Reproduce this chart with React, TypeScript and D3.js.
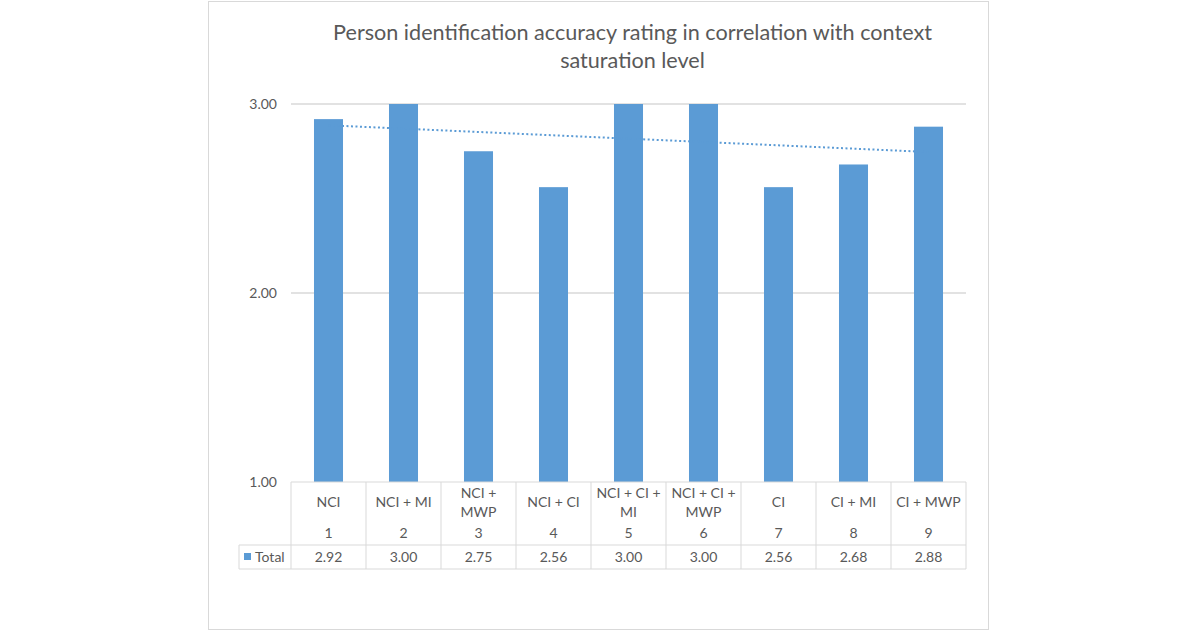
import React from "react";
import * as d3 from "d3";

const titleLines = [
  "Person identification accuracy rating in correlation with context",
  "saturation level",
];
const categories = [
  "NCI",
  "NCI + MI",
  "NCI + MWP",
  "NCI + CI",
  "NCI + CI + MI",
  "NCI + CI + MWP",
  "CI",
  "CI + MI",
  "CI + MWP",
];
const levels = [1, 2, 3, 4, 5, 6, 7, 8, 9];
const totals = [2.92, 3.0, 2.75, 2.56, 3.0, 3.0, 2.56, 2.68, 2.88];
const yTicks = [1, 2, 3];
const seriesName = "Total";

const FONT = "Lato, 'Open Sans', sans-serif";
const TEXT = "#595959";
const GRID = "#d9d9d9";
const BLUE = "#5B9BD5";

function wrap(label: string, maxW: number, font: string): string[] {
  const c = document.createElement("canvas").getContext("2d")!;
  c.font = font;
  const words = label.split(" ");
  const lines: string[] = [];
  let cur = "";
  for (const w of words) {
    const t = cur ? cur + " " + w : w;
    if (cur && c.measureText(t).width > maxW) {
      lines.push(cur);
      cur = w;
    } else cur = t;
  }
  if (cur) lines.push(cur);
  return lines;
}

export default function App() {
  const W = 1200,
    H = 632;
  const left = 291,
    right = 966,
    top = 104,
    bottom = 482;
  const x = d3
    .scaleBand<number>()
    .domain(levels)
    .range([left, right])
    .paddingInner(0.613)
    .paddingOuter(0.3065);
  const xCell = d3.scaleBand<number>().domain(levels).range([left, right]);
  const y = d3.scaleLinear().domain([1, 3]).range([bottom, top]);

  // linear trendline (least squares)
  const mx = d3.mean(levels)!;
  const my = d3.mean(totals)!;
  const sxy = d3.sum(levels.map((l, i) => (l - mx) * (totals[i] - my)));
  const sxx = d3.sum(levels.map((l) => (l - mx) ** 2));
  const slope = sxy / sxx;
  const icpt = my - slope * mx;
  const trend = levels.map((l) => [l, icpt + slope * l] as [number, number]);
  const line = d3
    .line<[number, number]>()
    .x((d) => xCell(d[0])! + xCell.bandwidth() / 2)
    .y((d) => y(d[1]));

  const row1Bottom = 545;
  const row2Bottom = 569;
  const legendLeft = 239;
  const fs = 14;

  return (
    <svg width={W} height={H} style={{ position: "absolute", left: 0, top: 0 }} fontFamily={FONT}>
      <rect x={0} y={0} width={W} height={H} fill="#fff" />
      <rect x={208.5} y={1.5} width={780} height={628} fill="#fff" stroke={GRID} strokeWidth={1} />
      {titleLines.map((t, i) => (
        <text key={i} x={632.5} y={40 + i * 28} textAnchor="middle" fontSize={21.6} fill={TEXT}>
          {t}
        </text>
      ))}
      {yTicks.map((t) => (
        <g key={t}>
          {t > 1 && (
            <line x1={left} x2={right} y1={y(t)} y2={y(t)} stroke={GRID} strokeWidth={1.3} />
          )}
          <text x={277} y={y(t) + 5} textAnchor="end" fontSize={fs} fill={TEXT}>
            {d3.format(".2f")(t)}
          </text>
        </g>
      ))}
      {totals.map((v, i) => (
        <rect
          key={i}
          x={x(levels[i])}
          y={y(v)}
          width={x.bandwidth()}
          height={y(1) - y(v)}
          fill={BLUE}
        />
      ))}
      <path
        d={line(trend)!}
        fill="none"
        stroke={BLUE}
        strokeWidth={2}
        strokeDasharray="2 2.5"
      />
      {/* data table */}
      <g stroke={GRID} strokeWidth={1}>
        <line x1={left} x2={right} y1={bottom} y2={bottom} />
        <line x1={legendLeft} x2={right} y1={row1Bottom} y2={row1Bottom} />
        <line x1={legendLeft} x2={right} y1={row2Bottom} y2={row2Bottom} />
        <line x1={legendLeft} x2={legendLeft} y1={row1Bottom} y2={row2Bottom} />
        {levels.map((l) => (
          <line key={l} x1={xCell(l)} x2={xCell(l)} y1={bottom} y2={row2Bottom} />
        ))}
        <line x1={right} x2={right} y1={bottom} y2={row2Bottom} />
      </g>
      {categories.map((c, i) => {
        const cx = xCell(levels[i])! + xCell.bandwidth() / 2;
        const lines = wrap(c, 68, `${fs}px ${FONT}`);
        const y0 = 507 - ((lines.length - 1) * 19) / 2;
        return (
          <g key={i} fontSize={fs} fill={TEXT} textAnchor="middle">
            {lines.map((ln, j) => (
              <text key={j} x={cx} y={y0 + j * 19}>
                {ln}
              </text>
            ))}
            <text x={cx} y={538}>
              {levels[i]}
            </text>
            <text x={cx} y={562}>
              {d3.format(".2f")(totals[i])}
            </text>
          </g>
        );
      })}
      <rect x={244} y={553} width={7} height={7} fill={BLUE} />
      <text x={255} y={562} fontSize={fs} fill={TEXT}>
        {seriesName}
      </text>
    </svg>
  );
}
